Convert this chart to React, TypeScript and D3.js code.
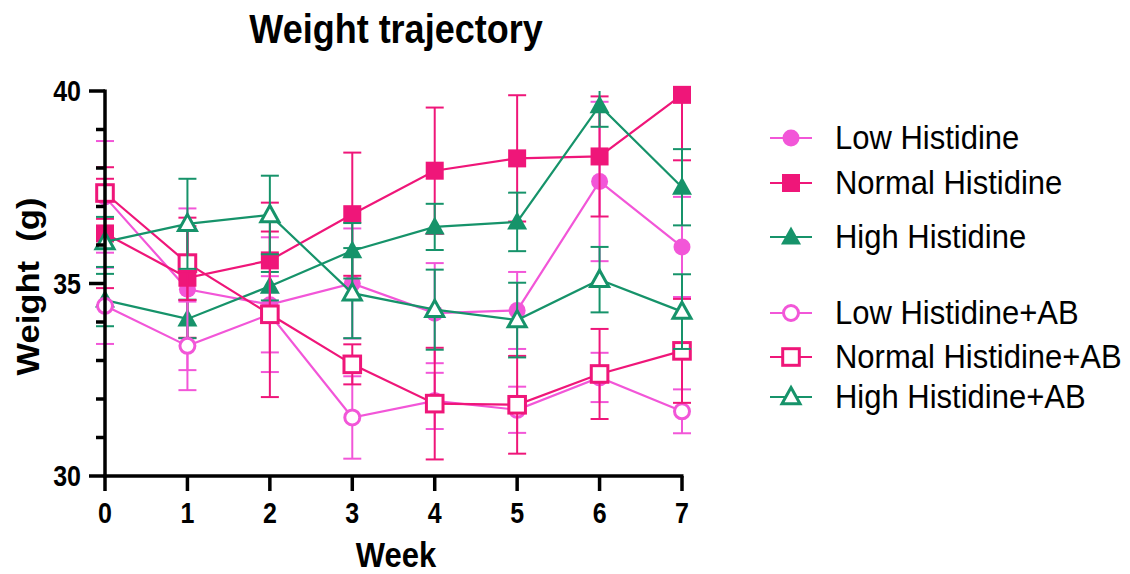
import React from "react";
import * as d3 from "d3";

const weeks = [0, 1, 2, 3, 4, 5, 6, 7];
const yTickLabels = [30, 35, 40];
const yMinorTicks = [31, 32, 33, 34, 36, 37, 38, 39];

const lowHis = [37.25, 34.85, 34.45, 35.0, 34.23, 34.3, 37.65, 35.95];
const lowHisErr = [1.45, 2.1, 1.75, 1.43, 1.3, 1.0, 2.07, 1.3];
const normalHis = [36.3, 35.15, 35.6, 36.8, 37.93, 38.25, 38.3, 39.9];
const normalHisErr = [1.42, 1.56, 1.5, 1.6, 1.64, 1.64, 1.56, 1.7];
const highHis = [34.57, 34.08, 34.93, 35.85, 36.47, 36.6, 39.62, 37.5];
const highHisErr = [0.68, 0.5, 0.37, 0.72, 0.6, 0.76, 0.55, 0.99];
const lowHisAB = [34.42, 33.38, 34.2, 31.52, 31.95, 31.72, 32.56, 31.68];
const lowHisABErr = [0.99, 1.15, 0.99, 1.07, 0.73, 0.6, 0.64, 0.57];
const normalHisAB = [37.35, 35.53, 34.2, 32.9, 31.88, 31.85, 32.65, 33.25];
const normalHisABErr = [0.67, 0.96, 2.15, 0.52, 1.45, 1.27, 1.17, 1.35];
const highHisAB = [36.08, 36.55, 36.78, 34.75, 34.32, 34.05, 35.1, 34.27];
const highHisABErr = [0.65, 1.17, 1.02, 1.17, 1.04, 0.97, 0.85, 0.97];

const PINK = "#f256d8";
const HOT = "#ef1679";
const GREEN = "#16936a";

type Shape = "circle" | "square" | "triangle";
interface Series {
  name: string;
  values: number[];
  errs: number[];
  color: string;
  shape: Shape;
  open: boolean;
}

const series: Series[] = [
  { name: "Low Histidine", values: lowHis, errs: lowHisErr, color: PINK, shape: "circle", open: false },
  { name: "Normal Histidine", values: normalHis, errs: normalHisErr, color: HOT, shape: "square", open: false },
  { name: "High Histidine", values: highHis, errs: highHisErr, color: GREEN, shape: "triangle", open: false },
  { name: "Low Histidine+AB", values: lowHisAB, errs: lowHisABErr, color: PINK, shape: "circle", open: true },
  { name: "Normal Histidine+AB", values: normalHisAB, errs: normalHisABErr, color: HOT, shape: "square", open: true },
  { name: "High Histidine+AB", values: highHisAB, errs: highHisABErr, color: GREEN, shape: "triangle", open: true },
];

const legendY = [138, 183, 237, 313, 357, 397];

const FONT = "'Liberation Sans', Arial, sans-serif";
const STRETCH = 1.15;

function Marker({ cx, cy, s }: { cx: number; cy: number; s: Series }) {
  const sw = s.open ? 3 : 0;
  const fill = s.open ? "#ffffff" : s.color;
  const stroke = s.open ? s.color : "none";
  if (s.shape === "circle") {
    const r = s.open ? 7.5 : 8.5;
    return <circle cx={cx} cy={cy} r={r} fill={fill} stroke={stroke} strokeWidth={sw} />;
  }
  if (s.shape === "square") {
    const h = s.open ? 8.3 : 9;
    return <rect x={cx - h} y={cy - h} width={2 * h} height={2 * h} fill={fill} stroke={stroke} strokeWidth={sw} />;
  }
  const a = s.open ? 9 : 10;
  const pts = `${cx},${cy - a * 1.05} ${cx + a},${cy + a * 0.75} ${cx - a},${cy + a * 0.75}`;
  return <polygon points={pts} fill={fill} stroke={stroke} strokeWidth={sw} strokeLinejoin="miter" />;
}

function T({
  x,
  y,
  size,
  bold,
  anchor,
  rotate,
  stretch,
  children,
}: {
  x: number;
  y: number;
  size: number;
  bold?: boolean;
  anchor?: string;
  rotate?: boolean;
  stretch?: number;
  children: React.ReactNode;
}) {
  const st = stretch ?? STRETCH;
  const tr = rotate
    ? `translate(${x},${y}) rotate(-90) scale(${st * 0.97},1)`
    : `translate(${x},${y}) scale(1,${st})`;
  return (
    <text
      transform={tr}
      x={0}
      y={0}
      fontSize={size}
      fontWeight={bold ? "bold" : "normal"}
      textAnchor={anchor || "start"}
      style={{ whiteSpace: "pre" }}
    >
      {children}
    </text>
  );
}

export default function App() {
  const x = d3.scaleLinear().domain([0, 7]).range([105, 682]);
  const y = d3.scaleLinear().domain([30, 40]).range([476, 91]);
  const line = d3
    .line<number>()
    .x((_, i) => x(weeks[i]))
    .y((v) => y(v));
  const clampY = (v: number) => y(Math.max(30, Math.min(40, v)));
  const cap = 9;

  return (
    <svg
      width={1130}
      height={574}
      style={{ position: "absolute", left: 0, top: 0, background: "#fff" }}
      fontFamily={FONT}
    >
      <rect width={1130} height={574} fill="#fff" />
      <T x={396} y={43} size={36} bold anchor="middle">
        Weight trajectory
      </T>

      {series.map((s, si) => (
        <g key={si}>
          {s.values.map((v, i) => {
            const cx = x(weeks[i]);
            const top = clampY(v + s.errs[i]);
            const bot = clampY(v - s.errs[i]);
            return (
              <g key={i} stroke={s.color} strokeWidth={2}>
                <line x1={cx} x2={cx} y1={top} y2={bot} />
                {v + s.errs[i] <= 40 && <line x1={cx - cap} x2={cx + cap} y1={top} y2={top} />}
                <line x1={cx - cap} x2={cx + cap} y1={bot} y2={bot} />
              </g>
            );
          })}
          <path d={line(s.values) || ""} fill="none" stroke={s.color} strokeWidth={2.2} />
          {s.values.map((v, i) => (
            <Marker key={i} cx={x(weeks[i])} cy={y(v)} s={s} />
          ))}
        </g>
      ))}

      {/* axes */}
      <g stroke="#000" strokeWidth={3.5}>
        <line x1={105} x2={105} y1={y(40) - 1.5} y2={y(30) + 1.5} />
        <line x1={103.5} x2={x(7) + 1.5} y1={476} y2={476} />
        {yTickLabels.map((t) => (
          <line key={t} x1={89} x2={105} y1={y(t)} y2={y(t)} />
        ))}
        {yMinorTicks.map((t) => (
          <line key={t} x1={96} x2={105} y1={y(t)} y2={y(t)} />
        ))}
        {weeks.map((w) => (
          <line key={w} x1={x(w)} x2={x(w)} y1={476} y2={491} />
        ))}
      </g>
      {yTickLabels.map((t) => (
        <T key={t} x={81} y={y(t) + 10} size={25} bold anchor="end">
          {t}
        </T>
      ))}
      {weeks.map((w) => (
        <T key={w} x={x(w)} y={523} size={25} bold anchor="middle">
          {w}
        </T>
      ))}
      <T x={396} y={567} size={31} bold anchor="middle">
        Week
      </T>
      <T x={39} y={y(35) + 3} size={31} bold anchor="middle" rotate>
        {"Weight\u00A0\u00A0(g)"}
      </T>

      {/* legend */}
      {series.map((s, i) => (
        <g key={i}>
          <line x1={770} x2={812} y1={legendY[i]} y2={legendY[i]} stroke={s.color} strokeWidth={2.2} />
          <Marker cx={791} cy={legendY[i]} s={s} />
          <T x={835} y={legendY[i] + 11} size={31} stretch={1.05}>
            {s.name}
          </T>
        </g>
      ))}
    </svg>
  );
}
